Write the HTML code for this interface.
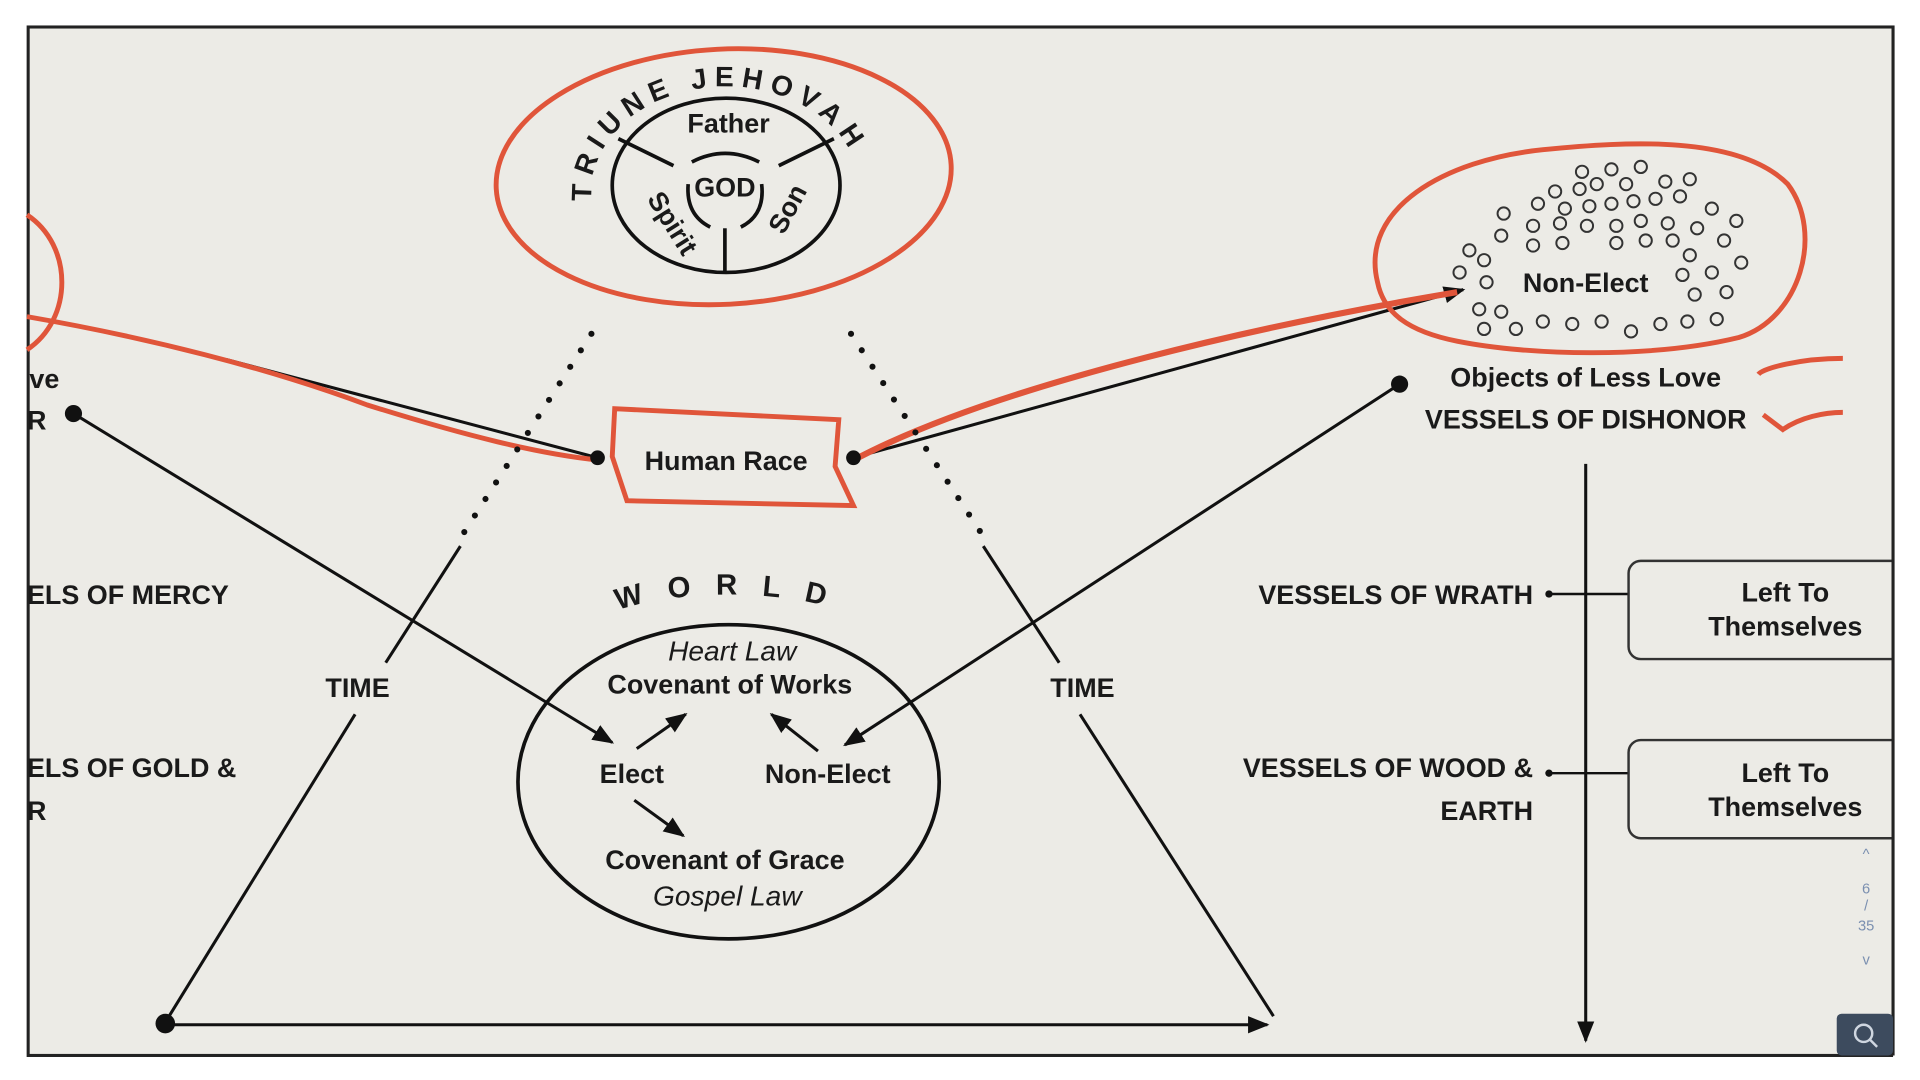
<!DOCTYPE html>
<html><head><meta charset="utf-8"><style>
html,body{margin:0;padding:0;background:#fff;width:1920px;height:1080px;overflow:hidden}
svg{display:block}
text{font-family:"Liberation Sans",sans-serif;fill:#1a1a1a}
.b{font-weight:bold;font-size:22px}
</style></head><body>
<svg width="1920" height="1080" viewBox="0 0 1568 880" preserveAspectRatio="none">
<defs>
<marker id="ah" viewBox="0 0 10 10" refX="9" refY="5" markerWidth="7" markerHeight="7" orient="auto-start-reverse"><path d="M0,1 L10,5 L0,9 z" fill="#111"/></marker>
<path id="arcT" d="M484,168 A110,86 0 1 1 702,168"/>
<path id="arcW" d="M505,497 A130,45 0 0 1 685,497"/>
</defs>
<rect x="0" y="0" width="1568" height="880" fill="#fff"/>
<rect x="23" y="22" width="1523" height="838" fill="#ecebe6" stroke="#222" stroke-width="2.5"/>

<!-- God circle -->
<ellipse cx="591" cy="144" rx="186" ry="104" fill="none" stroke="#e0553a" stroke-width="4" transform="rotate(-3 591 144)"/>
<ellipse cx="593" cy="151" rx="93" ry="71" fill="none" stroke="#111" stroke-width="3"/>
<text font-size="23" font-weight="bold" letter-spacing="6"><textPath href="#arcT" startOffset="4">TRIUNE   JEHOVAH</textPath></text>
<text class="b" x="595" y="108" text-anchor="middle" font-size="24">Father</text>
<text class="b" x="592" y="160" text-anchor="middle" font-size="24">GOD</text>
<text class="b" x="0" y="0" font-size="22" transform="translate(528,162) rotate(58)">Spirit</text>
<text class="b" x="0" y="0" font-size="22" transform="translate(640,192) rotate(-62)">Son</text>
<g stroke="#111" stroke-width="3" fill="none">
<line x1="505" y1="113" x2="550" y2="135"/><line x1="681" y1="113" x2="636" y2="135"/><line x1="592" y1="186" x2="592" y2="222"/>
<path d="M565,132 Q592,118 620,132"/><path d="M562,150 Q560,175 580,185"/><path d="M622,150 Q625,175 605,185"/>
</g>

<!-- Human race -->
<path d="M502,333 L685,342 L682,380 L697,412 L512,408 L500,372 Z" fill="none" stroke="#e0553a" stroke-width="4"/>
<text class="b" x="593" y="383" text-anchor="middle" font-size="21">Human Race</text>
<line x1="488" y1="373" x2="185" y2="293" stroke="#111" stroke-width="2.5"/>
<path d="M22,258 C120,275 220,300 300,330 C380,355 440,370 490,375" fill="none" stroke="#e0553a" stroke-width="4"/>
<path d="M22,175 C60,200 60,260 22,285" fill="none" stroke="#e0553a" stroke-width="4"/>
<line x1="697" y1="373" x2="1195" y2="236" stroke="#111" stroke-width="2.5" marker-end="url(#ah)"/>
<path d="M697,375 C800,320 1000,270 1190,238" fill="none" stroke="#e0553a" stroke-width="5"/>
<circle cx="488" cy="373" r="6" fill="#111"/><circle cx="697" cy="373" r="6" fill="#111"/>

<!-- dotted & time -->
<g stroke="#111" stroke-width="5" stroke-dasharray="0 16" stroke-linecap="round">
<line x1="483" y1="272" x2="375" y2="440"/><line x1="695" y1="272" x2="805" y2="440"/>
</g>
<g stroke="#111" stroke-width="2.5">
<line x1="376" y1="445" x2="315" y2="540"/><line x1="290" y1="582" x2="135" y2="833"/>
<line x1="803" y1="445" x2="865" y2="540"/><line x1="882" y1="582" x2="1040" y2="828"/>
<line x1="135" y1="835" x2="1035" y2="835" marker-end="url(#ah)"/>
</g>
<circle cx="135" cy="834" r="8" fill="#111"/>
<text class="b" x="292" y="568" text-anchor="middle">TIME</text>
<text class="b" x="884" y="568" text-anchor="middle">TIME</text>

<!-- World -->
<ellipse cx="595" cy="637" rx="172" ry="128" fill="none" stroke="#111" stroke-width="3"/>
<text font-size="24" font-weight="bold"><textPath href="#arcW" textLength="170" lengthAdjust="spacing">WORLD</textPath></text>
<text x="598" y="538" text-anchor="middle" font-size="23" font-style="italic">Heart Law</text>
<text class="b" x="596" y="565" text-anchor="middle" font-size="23">Covenant of Works</text>
<text class="b" x="516" y="638" text-anchor="middle" font-size="22">Elect</text>
<text class="b" x="676" y="638" text-anchor="middle" font-size="22">Non-Elect</text>
<text class="b" x="592" y="708" text-anchor="middle" font-size="23">Covenant of Grace</text>
<text x="594" y="738" text-anchor="middle" font-size="23" font-style="italic">Gospel Law</text>
<g stroke="#111" stroke-width="2.5" marker-end="url(#ah)">
<line x1="60" y1="337" x2="500" y2="605"/>
<line x1="1143" y1="313" x2="690" y2="607"/>
<line x1="520" y1="610" x2="560" y2="582"/>
<line x1="668" y1="612" x2="630" y2="582"/>
<line x1="518" y1="652" x2="558" y2="681"/>
</g>
<circle cx="60" cy="337" r="7" fill="#111"/><circle cx="1143" cy="313" r="7" fill="#111"/>

<!-- Non-elect blob -->
<path d="M1125,230 C1110,170 1180,130 1260,122 C1330,115 1420,110 1460,150 C1490,190 1470,260 1420,275 C1350,292 1250,290 1190,278 C1150,270 1130,255 1125,230 Z" fill="none" stroke="#e0553a" stroke-width="4"/>
<g fill="none" stroke="#333" stroke-width="1.6">
<circle cx="1292" cy="140" r="5"/><circle cx="1316" cy="138" r="5"/><circle cx="1340" cy="136" r="5"/><circle cx="1360" cy="148" r="5"/><circle cx="1380" cy="146" r="5"/>
<circle cx="1270" cy="156" r="5"/><circle cx="1290" cy="154" r="5"/><circle cx="1304" cy="150" r="5"/><circle cx="1328" cy="150" r="5"/><circle cx="1352" cy="162" r="5"/><circle cx="1372" cy="160" r="5"/><circle cx="1398" cy="170" r="5"/>
<circle cx="1256" cy="166" r="5"/><circle cx="1278" cy="170" r="5"/><circle cx="1298" cy="168" r="5"/><circle cx="1316" cy="166" r="5"/><circle cx="1334" cy="164" r="5"/><circle cx="1228" cy="174" r="5"/>
<circle cx="1252" cy="184" r="5"/><circle cx="1274" cy="182" r="5"/><circle cx="1296" cy="184" r="5"/><circle cx="1320" cy="184" r="5"/><circle cx="1340" cy="180" r="5"/><circle cx="1362" cy="182" r="5"/><circle cx="1386" cy="186" r="5"/><circle cx="1418" cy="180" r="5"/>
<circle cx="1226" cy="192" r="5"/><circle cx="1252" cy="200" r="5"/><circle cx="1276" cy="198" r="5"/><circle cx="1320" cy="198" r="5"/><circle cx="1344" cy="196" r="5"/><circle cx="1366" cy="196" r="5"/><circle cx="1408" cy="196" r="5"/>
<circle cx="1200" cy="204" r="5"/><circle cx="1212" cy="212" r="5"/><circle cx="1380" cy="208" r="5"/><circle cx="1422" cy="214" r="5"/>
<circle cx="1192" cy="222" r="5"/><circle cx="1214" cy="230" r="5"/><circle cx="1374" cy="224" r="5"/><circle cx="1398" cy="222" r="5"/><circle cx="1384" cy="240" r="5"/><circle cx="1410" cy="238" r="5"/>
<circle cx="1208" cy="252" r="5"/><circle cx="1226" cy="254" r="5"/><circle cx="1212" cy="268" r="5"/><circle cx="1238" cy="268" r="5"/><circle cx="1260" cy="262" r="5"/><circle cx="1284" cy="264" r="5"/><circle cx="1308" cy="262" r="5"/><circle cx="1332" cy="270" r="5"/><circle cx="1356" cy="264" r="5"/><circle cx="1378" cy="262" r="5"/><circle cx="1402" cy="260" r="5"/>
</g>
<text class="b" x="1295" y="238" text-anchor="middle" font-size="22">Non-Elect</text>
<text class="b" x="1295" y="315" text-anchor="middle" font-size="23">Objects of Less Love</text>
<text class="b" x="1295" y="349" text-anchor="middle" font-size="23">VESSELS OF DISHONOR</text>
<path d="M1436,305 C1440,300 1470,292 1505,292" fill="none" stroke="#e0553a" stroke-width="4"/>
<path d="M1440,338 L1456,350 C1470,340 1490,336 1505,336" fill="none" stroke="#e0553a" stroke-width="4"/>

<!-- right column -->
<line x1="1295" y1="378" x2="1295" y2="848" stroke="#111" stroke-width="2.5" marker-end="url(#ah)"/>
<text class="b" x="1252" y="492" text-anchor="end">VESSELS OF WRATH</text>
<text class="b" x="1252" y="633" text-anchor="end">VESSELS OF WOOD &amp;</text>
<text class="b" x="1252" y="668" text-anchor="end">EARTH</text>
<g stroke="#111" stroke-width="2"><line x1="1265" y1="484" x2="1330" y2="484"/><line x1="1265" y1="630" x2="1330" y2="630"/></g>
<circle cx="1265" cy="484" r="3" fill="#111"/><circle cx="1265" cy="630" r="3" fill="#111"/>
<rect x="1330" y="457" width="230" height="80" rx="10" fill="none" stroke="#333" stroke-width="2"/>
<rect x="1330" y="603" width="230" height="80" rx="10" fill="none" stroke="#333" stroke-width="2"/>
<text class="b" x="1458" y="490" text-anchor="middle" font-size="23">Left To</text>
<text class="b" x="1458" y="518" text-anchor="middle" font-size="23">Themselves</text>
<text class="b" x="1458" y="637" text-anchor="middle" font-size="23">Left To</text>
<text class="b" x="1458" y="665" text-anchor="middle" font-size="23">Themselves</text>
<rect x="1546" y="22" width="22" height="840" fill="#fff"/>
<line x1="1546" y1="22" x2="1546" y2="860" stroke="#222" stroke-width="2.5"/>

<!-- left clipped text -->
<text class="b" x="24" y="316">ve</text>
<text class="b" x="22" y="350">R</text>
<text class="b" x="22" y="492">ELS OF MERCY</text>
<text class="b" x="22" y="633">ELS OF GOLD &amp;</text>
<text class="b" x="22" y="668">R</text>

<!-- page indicator -->
<g font-size="12" text-anchor="middle">
<text x="1524" y="700" style="fill:#7a8fb0">^</text>
<text x="1524" y="728" style="fill:#7a8fb0">6</text>
<text x="1524" y="742" style="fill:#7a8fb0">/</text>
<text x="1524" y="758" style="fill:#7a8fb0">35</text>
<text x="1524" y="786" style="fill:#7a8fb0">v</text>
</g>
<rect x="1500" y="826" width="46" height="34" rx="4" fill="#3d4b5e"/>
<circle cx="1522" cy="842" r="7" fill="none" stroke="#cfd6e0" stroke-width="2"/>
<line x1="1527" y1="847" x2="1533" y2="853" stroke="#cfd6e0" stroke-width="2"/>
</svg>
</body></html>
